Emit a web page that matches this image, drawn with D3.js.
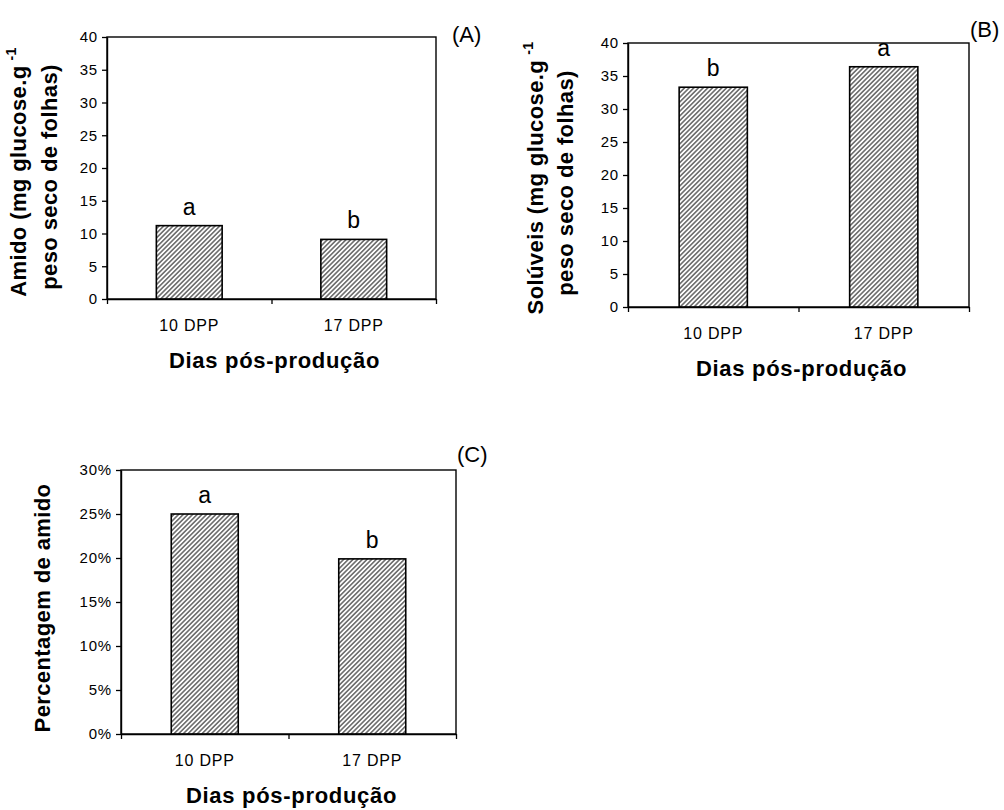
<html>
<head>
<meta charset="utf-8">
<script src="https://d3js.org/d3.v7.min.js"></script>
<style>
  body { margin: 0; background: #fff; }
  text { font-family: "Liberation Sans", Arial, sans-serif; }
</style>
</head>
<body>
<svg width="1004" height="810"></svg>
<script>
var categories = ["10 DPP", "17 DPP"];
var amido = [11.2, 9.1];
var soluveis = [33.3, 36.4];
var percentAmido = [0.25, 0.199];
var letrasA = ["a", "b"];
var letrasB = ["b", "a"];
var letrasC = ["a", "b"];
var ticksAB = [0, 5, 10, 15, 20, 25, 30, 35, 40];
var ticksC = [0, 0.05, 0.10, 0.15, 0.20, 0.25, 0.30];

var font = "'Liberation Sans', Arial, sans-serif";
var svg = d3.select("svg");
svg.append("rect").attr("width", 1004).attr("height", 810).attr("fill", "#fff");

// diagonal hatch fill
var pat = svg.append("defs").append("pattern")
  .attr("id", "hatch")
  .attr("patternUnits", "userSpaceOnUse")
  .attr("width", 3.3).attr("height", 3.3)
  .attr("patternTransform", "rotate(45)");
pat.append("rect").attr("width", 3.3).attr("height", 3.3).attr("fill", "#fff");
pat.append("line").attr("x1", 1.65).attr("y1", 0).attr("x2", 1.65).attr("y2", 3.3)
  .attr("stroke", "#333").attr("stroke-width", 1.15);

function panel(o) {
  var g = svg.append("g");
  var x = d3.scaleBand().domain(categories).range([o.left, o.right]);
  var xb = d3.scaleLinear().domain([0, categories.length]).range([o.left, o.right]);
  var y = d3.scaleLinear().domain([0, d3.max(o.ticks)]).range([o.bottom, o.top]);

  // plot frame
  g.append("rect")
    .attr("x", o.left).attr("y", o.top)
    .attr("width", o.right - o.left).attr("height", o.bottom - o.top)
    .attr("fill", "none").attr("stroke", "#000").attr("stroke-width", 1.4);

  var bw = x.bandwidth() * 0.4;
  g.selectAll("rect.bar")
    .data(o.values)
    .enter().append("rect")
    .attr("class", "bar")
    .attr("x", function (d, i) { return x(categories[i]) + x.bandwidth() / 2 - bw / 2; })
    .attr("y", function (d) { return y(d); })
    .attr("width", bw)
    .attr("height", function (d) { return y(0) - y(d); })
    .attr("fill", "url(#hatch)")
    .attr("stroke", "#000")
    .attr("stroke-width", 1.6);

  g.selectAll("text.letra")
    .data(o.values)
    .enter().append("text")
    .attr("class", "letra")
    .attr("x", function (d, i) { return x(categories[i]) + x.bandwidth() / 2; })
    .attr("y", function (d) { return y(d) - 11; })
    .attr("text-anchor", "middle")
    .attr("font-size", 23)
    .text(function (d, i) { return o.letras[i]; });

  // y axis
  var ya = g.append("g")
    .attr("transform", "translate(" + o.left + ",0)")
    .call(d3.axisLeft(y).tickValues(o.ticks).tickFormat(o.fmt).tickSize(5).tickPadding(4).tickSizeOuter(0));
  ya.attr("font-family", font).attr("font-size", 15);
  ya.select(".domain").attr("stroke-width", 1.4);
  ya.selectAll(".tick line").attr("stroke-width", 1.3);
  ya.selectAll("text").attr("fill", "#000").attr("letter-spacing", 0.8);

  // x axis: ticks at category boundaries
  var xa = g.append("g")
    .attr("transform", "translate(0," + o.bottom + ")")
    .call(d3.axisBottom(xb).tickValues([0, 1, 2]).tickFormat("").tickSize(5).tickSizeOuter(0));
  xa.select(".domain").attr("stroke-width", 1.4);
  xa.selectAll(".tick line").attr("stroke-width", 1.3);

  // x category labels
  var xl = g.append("g")
    .attr("transform", "translate(0," + o.bottom + ")")
    .call(d3.axisBottom(x).tickSize(0).tickPadding(21));
  xl.select(".domain").remove();
  xl.attr("font-family", font).attr("font-size", 16);
  xl.selectAll("text").attr("fill", "#000").attr("letter-spacing", 0.8);

  // x title
  g.append("text")
    .attr("x", (o.left + o.right) / 2 + 3)
    .attr("y", o.bottom + 69)
    .attr("text-anchor", "middle")
    .attr("font-size", 22)
    .attr("font-weight", "bold")
    .attr("letter-spacing", 0.7)
    .text("Dias pós-produção");

  // y title lines
  o.ytitle.forEach(function (t) {
    var tx = g.append("text")
      .attr("transform", "translate(" + t.x + "," + t.y + ") rotate(-90)")
      .attr("text-anchor", "middle")
      .attr("font-size", 22)
      .attr("font-weight", "bold")
      .attr("letter-spacing", 0.4)
      .text(t.text);
    if (t.sup) {
      tx.append("tspan").attr("font-size", 14).attr("dx", 5).attr("dy", -10).text(t.sup);
    }
  });

  // panel tag
  g.append("text")
    .attr("x", o.tag[0]).attr("y", o.tag[1])
    .attr("font-size", 22)
    .text(o.tagText);
}

panel({
  left: 107, right: 436, top: 37, bottom: 299,
  values: amido, letras: letrasA, ticks: ticksAB, fmt: d3.format("d"),
  ytitle: [
    { x: 26, y: 172, text: "Amido (mg glucose.g", sup: "-1" },
    { x: 57, y: 177, text: "peso seco de folhas)" }
  ],
  tag: [452, 42], tagText: "(A)"
});

panel({
  left: 628, right: 969, top: 43, bottom: 307,
  values: soluveis, letras: letrasB, ticks: ticksAB, fmt: d3.format("d"),
  ytitle: [
    { x: 543, y: 178, text: "Solúveis (mg glucose.g", sup: "-1" },
    { x: 573, y: 183, text: "peso seco de folhas)" }
  ],
  tag: [970, 37], tagText: "(B)"
});

panel({
  left: 121, right: 456, top: 470, bottom: 734,
  values: percentAmido, letras: letrasC, ticks: ticksC, fmt: d3.format(".0%"),
  ytitle: [
    { x: 50, y: 608, text: "Percentagem de amido" }
  ],
  tag: [457, 462], tagText: "(C)"
});
</script>
</body>
</html>
